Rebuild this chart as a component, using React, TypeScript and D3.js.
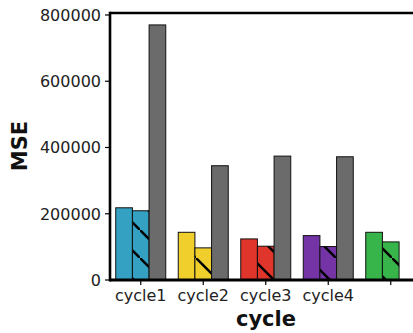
import React from "react";
import * as d3 from "d3";

// MSE per cycle for three model variants
const categories = ["cycle1", "cycle2", "cycle3", "cycle4", ""];
const solidValues = [218000, 144000, 124000, 134000, 144000];
const hatchedValues = [209000, 97000, 102000, 101000, 115000];
const grayValues: (number | null)[] = [770000, 345000, 374000, 372000, null];
const yTicks = [0, 200000, 400000, 600000, 800000];
const groupColors = ["#34a0c2", "#f0cf2c", "#e0352b", "#7434a6", "#38b54a"];
const grayColor = "#6b6b6b";

const W = 413;
const H = 333;
const plotLeft = 110;
const plotBottom = 280;
const plotTop = 13;
const font = "DejaVu Sans, sans-serif";
const hatchStep = 28;

export default function App() {
  const x = d3
    .scaleBand<string>()
    .domain(categories.map((c, i) => `${i}`))
    .range([109.5, 422])
    .paddingInner(0.2)
    .paddingOuter(0.1);
  const inner = d3
    .scaleBand<string>()
    .domain(["solid", "hatched", "gray"])
    .range([0, x.bandwidth()]);
  const y = d3.scaleLinear().domain([0, 806000]).range([plotBottom, plotTop]);

  const bars: { key: string; x: number; v: number; fill: string; hatch: boolean }[] = [];
  categories.forEach((c, i) => {
    const x0 = x(`${i}`)!;
    bars.push({ key: `s${i}`, x: x0 + inner("solid")!, v: solidValues[i], fill: groupColors[i], hatch: false });
    bars.push({ key: `h${i}`, x: x0 + inner("hatched")!, v: hatchedValues[i], fill: groupColors[i], hatch: true });
    const g = grayValues[i];
    if (g != null) bars.push({ key: `g${i}`, x: x0 + inner("gray")!, v: g, fill: grayColor, hatch: false });
  });
  const bw = inner.bandwidth();

  return (
    <svg width={W} height={H} style={{ position: "absolute", left: 0, top: 0, background: "#fff" }}>
      <defs>
        <pattern
          id="diag"
          patternUnits="userSpaceOnUse"
          width={hatchStep}
          height={hatchStep}
          x={0}
          y={6}
        >
          <line
            x1={-hatchStep}
            y1={-hatchStep}
            x2={2 * hatchStep}
            y2={2 * hatchStep}
            stroke="#000"
            strokeWidth={2.5}
          />
        </pattern>
        <clipPath id="plotClip">
          <rect x={plotLeft} y={plotTop} width={W - plotLeft} height={plotBottom - plotTop} />
        </clipPath>
      </defs>

      <g clipPath="url(#plotClip)">
        {bars.map((b) => (
          <g key={b.key}>
            <rect x={b.x} y={y(b.v)} width={bw} height={plotBottom - y(b.v)} fill={b.fill} />
            {b.hatch && (
              <rect x={b.x} y={y(b.v)} width={bw} height={plotBottom - y(b.v)} fill="url(#diag)" />
            )}
            <rect
              x={b.x}
              y={y(b.v)}
              width={bw}
              height={plotBottom - y(b.v)}
              fill="none"
              stroke="#111"
              strokeWidth={1}
            />
          </g>
        ))}
      </g>

      {/* spines */}
      <line x1={plotLeft} y1={plotTop} x2={W} y2={plotTop} stroke="#000" strokeWidth={2.6} />
      <line x1={plotLeft} y1={plotTop - 1.3} x2={plotLeft} y2={plotBottom + 1.5} stroke="#000" strokeWidth={2.6} />
      <line x1={plotLeft} y1={plotBottom} x2={W} y2={plotBottom} stroke="#000" strokeWidth={2.8} />

      {/* y axis */}
      {yTicks.map((t) => (
        <g key={t}>
          <line x1={plotLeft - 5} x2={plotLeft} y1={y(t)} y2={y(t)} stroke="#000" strokeWidth={1.2} />
          <text
            x={plotLeft - 9}
            y={y(t)}
            dy="0.36em"
            textAnchor="end"
            fontFamily={font}
            fontSize={16}
            fill="#222"
          >
            {t}
          </text>
        </g>
      ))}

      {/* x axis */}
      {categories.map((c, i) => {
        const cx = x(`${i}`)! + x.bandwidth() / 2;
        return (
          <g key={i}>
            <line x1={cx} x2={cx} y1={plotBottom} y2={plotBottom + 5} stroke="#000" strokeWidth={1.2} />
            <text x={cx} y={300.5} textAnchor="middle" fontFamily={font} fontSize={16} fill="#222">
              {c}
            </text>
          </g>
        );
      })}

      <text x={266} y={326} textAnchor="middle" fontFamily={font} fontSize={21} fontWeight="bold" fill="#111">
        cycle
      </text>
      <text
        transform="translate(27,146) rotate(-90)"
        textAnchor="middle"
        fontFamily={font}
        fontSize={21}
        fontWeight="bold"
        fill="#111"
      >
        MSE
      </text>
    </svg>
  );
}
